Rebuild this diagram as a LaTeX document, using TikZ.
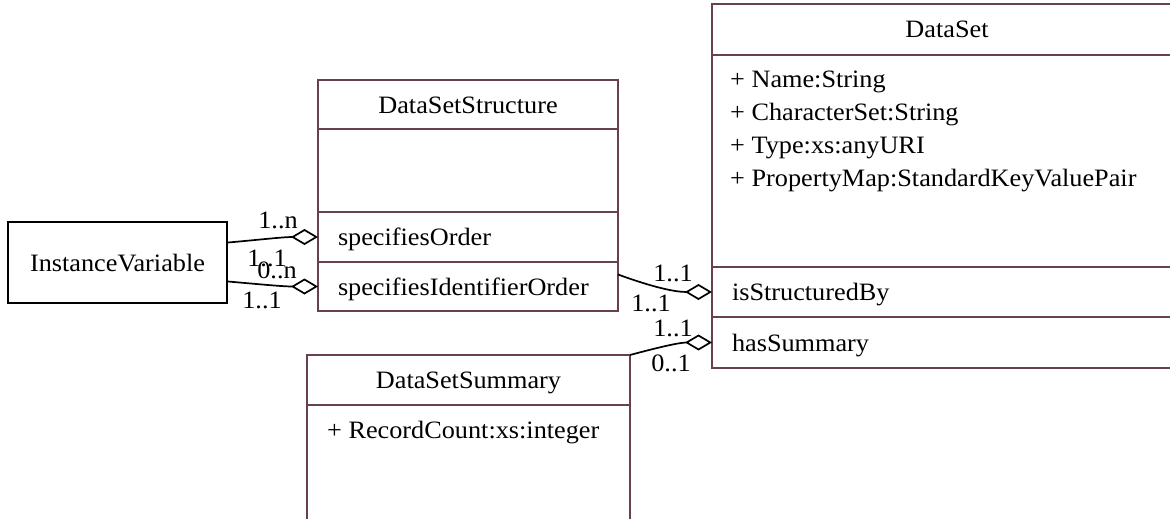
\documentclass[tikz,border=0pt]{standalone}
\usepackage{fontspec}
\setmainfont{Liberation Serif}[FakeStretch=1.05]
\usepackage{tikz}
\usetikzlibrary{arrows.meta}
\definecolor{umlline}{RGB}{104,64,78}

\tikzset{
  cell/.style={draw=umlline, line width=2.2pt, rectangle, inner sep=0pt, outer sep=0pt,
    anchor=north west, text height=17pt, text depth=0pt},
  opcell/.style={cell, align=left, inner xsep=20pt, text width=#1},
  member/.style={inner sep=0pt, anchor=west, text height=17pt, text depth=0pt},
  plainbox/.style={draw=black, line width=2pt, rectangle, inner sep=0pt,
    text height=17pt, text depth=0pt},
  assoc/.style={draw=black, line width=1.7pt, -{Diamond[open, length=27pt, width=16pt]}},
  mult/.style={inner sep=0pt, text height=17pt, text depth=0pt}
}

\begin{document}
\begin{tikzpicture}[x=1pt,y=-1pt,font=\fontsize{25}{33}\selectfont]
\clip (0,0) rectangle (1170,519);
% left class
\node[plainbox, minimum width=219pt, minimum height=81pt] (iv) at (117.5,262.5) {InstanceVariable};
% DataSetStructure
\node[cell, minimum width=300pt, minimum height=49pt] (dssHead) at (318,80) {DataSetStructure};
\node[cell, minimum width=300pt, minimum height=83pt] (dssAttr) at (dssHead.south west) {};
\node[opcell=260pt, minimum height=50pt] (dssOrd) at (dssAttr.south west) {specifiesOrder};
\node[opcell=260pt, minimum height=49pt] (dssIdOrd) at (dssOrd.south west) {specifiesIdentifierOrder};
% DataSet
\node[cell, minimum width=470pt, minimum height=51pt] (dsHead) at (712,4) {DataSet};
\node[cell, minimum width=470pt, minimum height=212pt] (dsAttr) at (dsHead.south west) {};
\node[opcell=430pt, minimum height=50pt] (dsStruct) at (dsAttr.south west) {isStructuredBy};
\node[opcell=430pt, minimum height=51pt] (dsSum) at (dsStruct.south west) {hasSummary};
\node[member] (dsName) at (730,79) {+ Name:String};
\node[member] (dsChar) at (730,112) {+ CharacterSet:String};
\node[member] (dsType) at (730,145) {+ Type:xs:anyURI};
\node[member] (dsProp) at (730,178) {+ PropertyMap:StandardKeyValuePair};
% DataSetSummary
\node[cell, minimum width=323pt, minimum height=50pt] (sumHead) at (307,355) {DataSetSummary};
\node[cell, minimum width=323pt, minimum height=170pt] (sumAttr) at (sumHead.south west) {};
\node[member] (sumCount) at (327,430) {+ RecordCount:xs:integer};
% associations
\draw[assoc] ([yshift=20pt]iv.east) to[out=5,in=180] (dssOrd.west);
\draw[assoc] ([yshift=-19pt]iv.east) to[out=-5,in=180] (dssIdOrd.west);
\draw[assoc] ([yshift=12pt]dssIdOrd.east) to[out=-20,in=180] (dsStruct.west);
\draw[assoc] (sumHead.north east) to[out=15,in=180] (dsSum.west);
% multiplicities
\node[mult] (ordTo) at (278,220) {1..n};
\node[mult] (ordFrom) at (267,258) {1..1};
\node[mult] (idTo) at (277,270) {0..n};
\node[mult] (idFrom) at (262,300) {1..1};
\node[mult] (structTo) at (673,273) {1..1};
\node[mult] (structFrom) at (651,303) {1..1};
\node[mult] (sumTo) at (673,328) {1..1};
\node[mult] (sumFrom) at (671,363) {0..1};
\end{tikzpicture}
\end{document}
